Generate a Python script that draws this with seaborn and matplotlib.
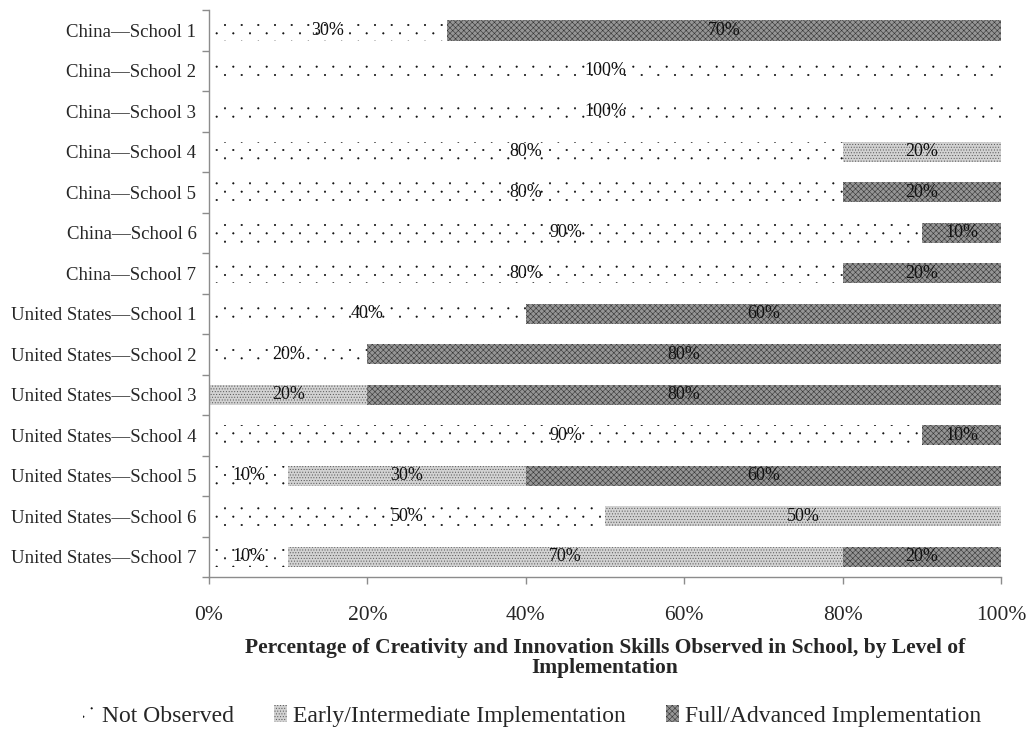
import matplotlib
matplotlib.use("Agg")
import matplotlib.pyplot as plt
from matplotlib import hatch as mhatch
from matplotlib.path import Path
from matplotlib.patches import Patch
import numpy as np
import pandas as pd
import seaborn as sns

schools = [
    "China\u2014School 1", "China\u2014School 2", "China\u2014School 3",
    "China\u2014School 4", "China\u2014School 5", "China\u2014School 6",
    "China\u2014School 7",
    "United States\u2014School 1", "United States\u2014School 2",
    "United States\u2014School 3", "United States\u2014School 4",
    "United States\u2014School 5", "United States\u2014School 6",
    "United States\u2014School 7",
]
not_observed = [30, 100, 100, 80, 80, 90, 80, 40, 20, 0, 90, 10, 50, 10]
early_intermediate = [0, 0, 0, 20, 0, 0, 0, 0, 0, 20, 0, 30, 50, 70]
full_advanced = [70, 0, 0, 0, 20, 10, 20, 60, 80, 80, 10, 60, 0, 20]

series_names = ["Not Observed", "Early/Intermediate Implementation",
                "Full/Advanced Implementation"]
tick_values = [0, 20, 40, 60, 80, 100]
x_label = ("Percentage of Creativity and Innovation Skills Observed in School, "
           "by Level of\nImplementation")


class StaggeredDots(mhatch.SmallFilledCircles):
    """A single '.' gives a sparse staggered dot texture (wide columns,
    close rows); more dots fall back to the standard small filled circles."""

    def __init__(self, hatch, density):
        self.sparse = hatch.count(".") == 1
        if not self.sparse:
            super().__init__(hatch, density)
            return
        circ = Path.unit_circle()
        self.dot_vertices = circ.vertices * 0.0075
        self.dot_codes = circ.codes
        centers = []
        n_rows, n_cols = 12, 6
        for i in range(n_rows + 1):
            y = i / n_rows
            if i % 2 == 0:
                xs = np.linspace(0, 1, n_cols + 1)
            else:
                xs = (np.arange(n_cols) + 0.5) / n_cols
            centers.extend((x, y) for x in xs)
        self.centers = np.array(centers)
        self.num_vertices = len(self.centers) * len(self.dot_vertices)

    def set_vertices_and_codes(self, vertices, codes):
        if not self.sparse:
            return super().set_vertices_and_codes(vertices, codes)
        nv = len(self.dot_vertices)
        for k, c in enumerate(self.centers):
            vertices[k * nv:(k + 1) * nv] = self.dot_vertices + c
            codes[k * nv:(k + 1) * nv] = self.dot_codes


mhatch._hatch_types = [StaggeredDots if t is mhatch.SmallFilledCircles else t
                       for t in mhatch._hatch_types]

sns.set_theme(style="white")
plt.rcParams["font.family"] = ["Liberation Serif", "DejaVu Serif"]
plt.rcParams["hatch.linewidth"] = 0.4

styles = [
    dict(color="white", edgecolor="#111111", hatch="."),
    dict(color="#d2d2d2", edgecolor="#555555", hatch="......"),
    dict(color="#959595", edgecolor="#363636", hatch="xxxxxx"),
]

df = pd.DataFrame({
    "school": schools,
    "not": not_observed,
    "early": early_intermediate,
    "full": full_advanced,
})
df["c1"] = df["not"]
df["c2"] = df["not"] + df["early"]
df["c3"] = df["c2"] + df["full"]

fig = plt.figure(figsize=(10.29, 7.41), dpi=100)
ax = fig.add_axes([0.2031, 0.2213, 0.7697, 0.765])

# Draw cumulative layers from the widest to the narrowest so each segment shows
for col, st in zip(["c3", "c2", "c1"], styles[::-1]):
    sns.barplot(data=df, x=col, y="school", orient="h", ax=ax, width=0.5,
                color=st["color"], edgecolor=st["edgecolor"], hatch=st["hatch"],
                linewidth=0, saturation=1)

# Segment value labels
for i, row in df.iterrows():
    starts = [0, row["c1"], row["c2"]]
    vals = [row["not"], row["early"], row["full"]]
    for s, v in zip(starts, vals):
        if v > 0:
            ax.text(s + v / 2, i, f"{v}%", ha="center", va="center",
                    fontsize=13, color="#111111")

ax.set_xlim(0, 100)
ax.set_ylim(len(schools) - 0.5, -0.5)
ax.set_xticks(tick_values)
ax.set_xticklabels([f"{t}%" for t in tick_values], fontsize=15.5)
ax.set_yticks(range(len(schools)))
ax.set_yticklabels(schools, fontsize=13.5)
ax.set_ylabel("")
ax.set_xlabel(x_label, fontsize=15.5, fontweight="bold", labelpad=9,
              linespacing=1.0)

for side in ["top", "right"]:
    ax.spines[side].set_visible(False)
for side in ["left", "bottom"]:
    ax.spines[side].set_color("#8c8c8c")
    ax.spines[side].set_linewidth(1.0)

# Category separators on the left axis, outward ticks on the bottom axis
ax.tick_params(axis="y", which="major", length=0, pad=9)
ax.set_yticks(np.arange(-0.5, len(schools), 1.0), minor=True)
ax.tick_params(axis="y", which="minor", left=True, length=5, width=1,
               color="#8c8c8c", direction="out")
ax.tick_params(axis="x", which="major", length=5, width=1, color="#8c8c8c",
               direction="out", pad=16, bottom=True, top=False)

handles = [Patch(facecolor=st["color"], edgecolor=st["edgecolor"], hatch=st["hatch"],
                 linewidth=0, label=name) for st, name in zip(styles, series_names)]
fig.legend(handles=handles, loc="center", bbox_to_anchor=(0.517, 0.034), ncol=3,
           frameon=False, fontsize=17, handlelength=0.55, handleheight=0.75,
           handletextpad=0.25, columnspacing=1.7)

fig.savefig("out.png", dpi=100)
